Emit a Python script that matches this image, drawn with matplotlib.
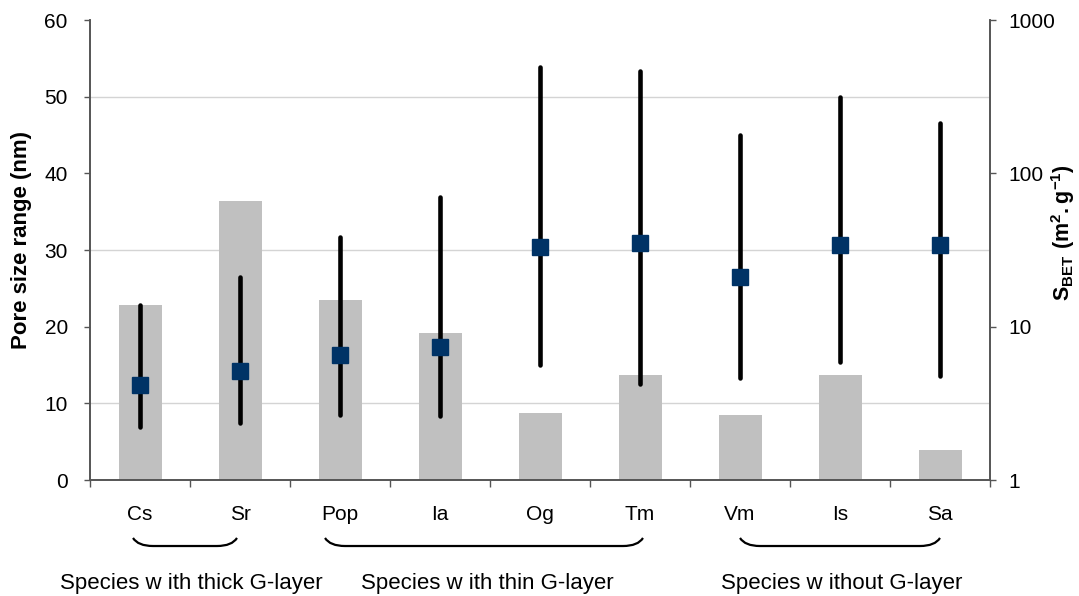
import numpy as np
import matplotlib.pyplot as plt
from matplotlib.path import Path
from matplotlib.patches import PathPatch
from matplotlib.ticker import FixedLocator, NullFormatter
import matplotlib.transforms as mtransforms

plt.rcParams['font.family'] = ['Liberation Sans', 'DejaVu Sans']
plt.rcParams['mathtext.fontset'] = 'custom'
plt.rcParams['mathtext.rm'] = 'Liberation Sans'
plt.rcParams['mathtext.bf'] = 'Liberation Sans:bold'

# species and values
species = ['Cs', 'Sr', 'Pop', 'Ia', 'Og', 'Tm', 'Vm', 'Is', 'Sa']
s_bet = [13.8, 66, 15, 9.1, 2.72, 4.84, 2.66, 4.84, 1.58]      # m2/g, right log axis
pore_min = [6.9, 7.5, 8.5, 8.3, 15.0, 12.5, 13.3, 15.4, 13.6]  # nm
pore_max = [22.8, 26.5, 31.7, 36.9, 53.9, 53.3, 45.0, 50.0, 46.6]
pore_mid = [12.4, 14.2, 16.3, 17.4, 30.4, 30.9, 26.5, 30.65, 30.65]

group_labels = ['Species w ith thick G-layer', 'Species w ith thin G-layer', 'Species w ithout G-layer']
group_label_x = [0.51, 3.47, 7.02]
brace_spans = [(-0.07, 0.97), (1.85, 5.03), (6.0, 8.0)]

x = np.arange(len(species))

fig = plt.figure(figsize=(10.79, 5.96), dpi=100)
ax = fig.add_axes([90 / 1079, 116 / 596, 900 / 1079, 460 / 596])
ax2 = ax.twinx()
ax.set_zorder(ax2.get_zorder() + 1)
ax.patch.set_visible(False)

# bars (S_BET) on log axis
ax2.set_yscale('log')
ax2.set_ylim(1, 1000)
ax2.bar(x, np.array(s_bet) - 1, bottom=1, width=0.43, color='#c0c0c0', zorder=2)
ax2.yaxis.set_major_locator(FixedLocator([1, 10, 100, 1000]))
ax2.set_yticklabels(['1', '10', '100', '1000'])
ax2.yaxis.set_minor_locator(FixedLocator(10 ** (np.arange(0, 7) / 2)))
ax2.yaxis.set_minor_formatter(NullFormatter())
ax2.tick_params(axis='y', which='minor', length=0)
ax2.tick_params(axis='y', which='major', length=4, width=1, color='#555555',
                labelsize=15, pad=9)
ax2.grid(True, which='minor', axis='y', color='#d4d4d4', lw=1, zorder=0)
ax2.set_axisbelow(True)

# pore size ranges
ax.set_ylim(0, 60)
ax.set_xlim(-0.5, len(species) - 0.5)
lines = ax.vlines(x, pore_min, pore_max, color='black', lw=3.3)
lines.set_capstyle('round')
ax.plot(x, pore_mid, 's', color='#003366', markersize=11.5, zorder=5)

ax.set_yticks(np.arange(0, 61, 10))
ax.tick_params(axis='y', length=4, width=1, color='#555555', labelsize=15, pad=12)
ax.set_xticks(np.arange(-0.5, len(species)), minor=False)
ax.set_xticklabels([])
ax.set_xticks(x, minor=True)
ax.set_xticklabels(species, minor=True)
ax.tick_params(axis='x', which='major', length=5, width=1, color='#555555')
ax.tick_params(axis='x', which='minor', length=0, labelsize=15, pad=18)

for a in (ax, ax2):
    a.spines['top'].set_visible(False)
    for s in ('left', 'right', 'bottom'):
        a.spines[s].set_color('#555555')
        a.spines[s].set_linewidth(1.2)

ax.set_ylabel('Pore size range (nm)', fontsize=16, fontweight='bold', va='center')
ax.yaxis.set_label_coords(-0.0756, 0.522)
ax2.set_ylabel(r'$\mathbf{S_{BET}\ (m^{2}.g^{-1})}$', fontsize=15.5, va='center')
ax2.yaxis.set_label_coords(1.081, 0.537)

# group braces and labels below the axis
trans = mtransforms.blended_transform_factory(ax.transData, ax.transAxes)
y_top, y_bot = -0.126, -0.1435
for (x0, x1) in brace_spans:
    verts = [(x0, y_top), (x0 + 0.05, y_bot), (x0 + 0.2, y_bot),
             (x1 - 0.2, y_bot), (x1 - 0.05, y_bot), (x1, y_top)]
    codes = [Path.MOVETO, Path.CURVE3, Path.CURVE3,
             Path.LINETO, Path.CURVE3, Path.CURVE3]
    ax.add_patch(PathPatch(Path(verts, codes), transform=trans, fill=False,
                           lw=1.6, color='black', clip_on=False))
for lab, gx in zip(group_labels, group_label_x):
    ax.text(gx, -0.224, lab, transform=trans, ha='center', va='center', fontsize=16)

fig.savefig('out.png', dpi=100)
